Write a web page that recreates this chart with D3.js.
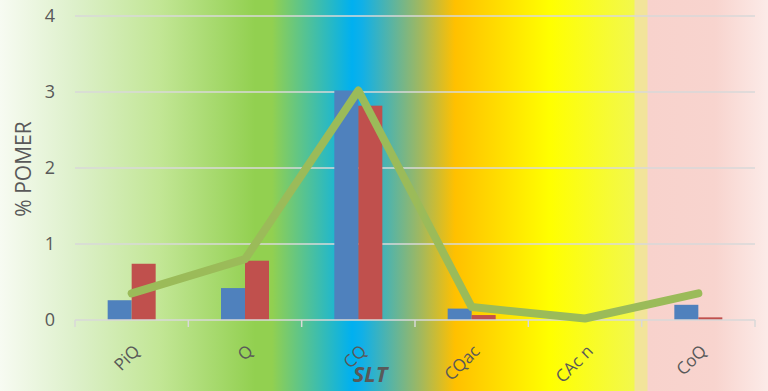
<!DOCTYPE html>
<html><head><meta charset="utf-8">
<script src="https://cdn.jsdelivr.net/npm/d3@7/dist/d3.min.js"></script>
<style>body{margin:0;}svg{display:block;}</style>
</head><body>
<svg id="c" width="768" height="391"></svg>
<script>
const categories = ["PiQ", "Q", "CQ", "CQac", "CAc n", "CoQ"];
const seriesBlue = [0.26, 0.42, 3.02, 0.15, 0, 0.2];
const seriesRed = [0.74, 0.78, 2.82, 0.065, 0, 0.035];
const seriesLine = [0.35, 0.8, 3.02, 0.17, 0.02, 0.35];
const yTicks = [0, 1, 2, 3, 4];
const title = "SLT";
const yTitle = "% POMER";

const W = 768, H = 391;
const m = {l: 75, r: 13, t: 16, b: 71};
const svg = d3.select("#c");
const defs = svg.append("defs");
const g = defs.append("linearGradient").attr("id", "bg").attr("x1", "0").attr("x2", "1").attr("y1", "0").attr("y2", "0");
const stops = [
  [0, "#f7fbf2"], [75, "#ddf0ca"], [160, "#c2e695"], [255, "#92d050"], [272, "#92d050"],
  [352, "#00b0f0"], [362, "#10b0e8"], [420, "#a0b860"], [455, "#ffc000"], [550, "#ffff00"],
  [634, "#f2f84c"], [635, "#f2e49a"], [647, "#f2e49a"], [648, "#f8d2cc"], [715, "#f8d4ce"], [768, "#fcebe8"]
];
stops.forEach(s => g.append("stop").attr("offset", s[0] / W).attr("stop-color", s[1]));
svg.append("rect").attr("width", W).attr("height", H).attr("fill", "url(#bg)");

const x = d3.scaleBand().domain(categories).range([m.l, W - m.r]);
const y = d3.scaleLinear().domain([0, 4]).range([H - m.b, m.t]);

// gridlines
svg.append("g").selectAll("line").data(yTicks.filter(d => d > 0)).join("line")
  .attr("x1", m.l).attr("x2", W - m.r).attr("y1", d => y(d)).attr("y2", d => y(d))
  .attr("stroke", "#d9d9d9").attr("stroke-width", 1.5);

// y tick labels
svg.append("g").selectAll("text").data(yTicks).join("text")
  .attr("x", 55).attr("y", d => y(d)).attr("dy", "0.36em").attr("text-anchor", "end")
  .attr("font-family", "Open Sans").attr("font-size", 18).attr("fill", "#595959")
  .text(d => d);

// bars
const bw = 24;
const bars = svg.append("g");
bars.selectAll("rect.b").data(categories).join("rect").attr("class", "b")
  .attr("x", d => x(d) + x.bandwidth() / 2 - bw).attr("width", bw)
  .attr("y", (d, i) => y(seriesBlue[i])).attr("height", (d, i) => y(0) - y(seriesBlue[i]))
  .attr("fill", "#4f81bd");
bars.selectAll("rect.r").data(categories).join("rect").attr("class", "r")
  .attr("x", d => x(d) + x.bandwidth() / 2).attr("width", bw)
  .attr("y", (d, i) => y(seriesRed[i])).attr("height", (d, i) => y(0) - y(seriesRed[i]))
  .attr("fill", "#c0504d");

// x axis baseline and ticks
const ax = svg.append("g").attr("stroke", "#d9d9d9").attr("stroke-width", 1.5);
ax.append("line").attr("x1", m.l).attr("x2", W - m.r).attr("y1", y(0)).attr("y2", y(0));
const edges = categories.map(c => x(c)).concat([W - m.r]);
ax.selectAll("line.t").data(edges).join("line").attr("class", "t")
  .attr("x1", d => d).attr("x2", d => d).attr("y1", y(0)).attr("y2", y(0) + 7);

// line
const line = d3.line().x((d, i) => x(categories[i]) + x.bandwidth() / 2).y(d => y(d));
svg.append("path").datum(seriesLine).attr("d", line).attr("fill", "none")
  .attr("stroke", "#9bbb59").attr("stroke-width", 8).attr("stroke-linecap", "round").attr("stroke-linejoin", "round");

// x labels
svg.append("g").selectAll("text").data(categories).join("text")
  .attr("transform", d => `translate(${x(d) + x.bandwidth() / 2 + 5},${y(0) + 28}) rotate(-45)`)
  .attr("text-anchor", "end").attr("dy", "0.35em")
  .attr("font-family", "Open Sans").attr("font-size", 17).attr("fill", "#595959")
  .text(d => d);

// titles
svg.append("text").attr("x", 370).attr("y", 382).attr("text-anchor", "middle")
  .attr("font-family", "Open Sans").attr("font-weight", "bold").attr("font-style", "italic")
  .attr("font-size", 22).attr("fill", "#595959").text(title);
svg.append("text").attr("transform", `translate(31,${(y(0) + y(4)) / 2 + 1}) rotate(-90)`)
  .attr("text-anchor", "middle").attr("font-family", "Open Sans").attr("font-size", 21).attr("fill", "#595959")
  .text(yTitle);
</script>
</body></html>
